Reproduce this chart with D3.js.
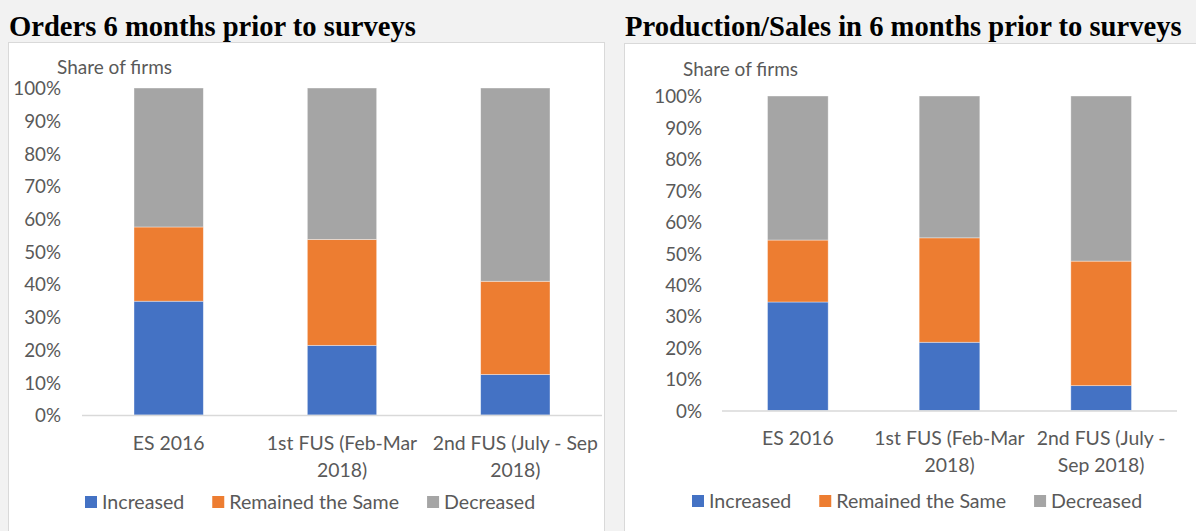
<!DOCTYPE html>
<html>
<head>
<meta charset="utf-8">
<script src="https://cdn.jsdelivr.net/npm/d3@7"></script>
<style>
  body { margin: 0; background: #f2f2f2; }
  svg { display: block; }
  text { font-family: Lato, "Open Sans", sans-serif; fill: #595959; }
  .title { font-family: "Liberation Serif", "DejaVu Serif", serif; font-weight: bold; fill: #000; }
</style>
</head>
<body>
<div id="chart"></div>
<script>
// data
var series = ["Increased", "Remained the Same", "Decreased"];
var colors = ["#4472c4", "#ed7d31", "#a5a5a5"];

var ordersCats = [["ES 2016"], ["1st FUS (Feb-Mar", "2018)"], ["2nd FUS (July - Sep", "2018)"]];
var ordersIncreased = [34.8, 21.3, 12.4];
var ordersSame = [22.7, 32.4, 28.5];
var ordersDecreased = [42.5, 46.3, 59.1];

var salesCats = [["ES 2016"], ["1st FUS (Feb-Mar", "2018)"], ["2nd FUS (July -", "Sep 2018)"]];
var salesIncreased = [34.5, 21.7, 7.9];
var salesSame = [19.7, 33.2, 39.6];
var salesDecreased = [45.8, 45.1, 52.5];

var yTicks = [0, 10, 20, 30, 40, 50, 60, 70, 80, 90, 100];

var width = 1196, height = 531;

var svg = d3.select("#chart")
    .append("svg")
    .attr("width", width)
    .attr("height", height);

function drawPanel(opt) {
    var g = svg.append("g");

    // panel box
    g.append("rect")
        .attr("x", opt.box[0] + 0.5)
        .attr("y", opt.box[1] + 0.5)
        .attr("width", opt.box[2])
        .attr("height", opt.box[3])
        .attr("fill", "#fff")
        .attr("stroke", "#d9d9d9");

    g.append("text")
        .attr("class", "title")
        .attr("x", opt.titleX)
        .attr("y", 36)
        .style("font-size", "28.6px")
        .text(opt.title);

    var x = d3.scaleBand()
        .domain(d3.range(opt.cats.length))
        .range([opt.x0, opt.x1])
        .paddingInner(0.6)
        .paddingOuter(0.3);

    var y = d3.scaleLinear()
        .domain([0, 100])
        .range([opt.y0, opt.y1]);

    var rows = opt.cats.map(function(c, i) {
        return {i: i, "Increased": opt.inc[i], "Remained the Same": opt.same[i], "Decreased": opt.dec[i]};
    });
    var stacked = d3.stack().keys(series)(rows);

    // y axis labels
    var yAxis = d3.axisLeft(y)
        .tickValues(yTicks)
        .tickFormat(function(d) { return d + "%"; })
        .tickSize(0)
        .tickPadding(0);
    var ya = g.append("g")
        .attr("transform", "translate(" + opt.labelX + ",0)")
        .call(yAxis);
    ya.select(".domain").remove();
    ya.selectAll("text")
        .style("font-size", "18.8px")
        .style("font-family", "Lato")
        .attr("fill", "#595959")
        .attr("dy", "0.36em");

    g.append("text")
        .attr("x", opt.unitX)
        .attr("y", opt.unitY)
        .style("font-size", "19px")
        .text("Share of firms");

    // bars
    g.selectAll(".layer")
        .data(stacked)
        .enter()
        .append("g")
        .attr("fill", function(d, i) { return colors[i]; })
        .selectAll("rect")
        .data(function(d) { return d; })
        .enter()
        .append("rect")
        .attr("x", function(d) { return x(d.data.i); })
        .attr("width", x.bandwidth())
        .attr("y", function(d) { return y(d[1]); })
        .attr("height", function(d) { return y(d[0]) - y(d[1]); })
        .attr("stroke", "#fff")
        .attr("stroke-opacity", 0.5)
        .attr("stroke-width", 0.75);

    // baseline
    g.append("line")
        .attr("x1", opt.x0)
        .attr("x2", opt.x1)
        .attr("y1", y(0) + 0.5)
        .attr("y2", y(0) + 0.5)
        .attr("stroke", "#d9d9d9")
        .attr("stroke-width", 1.5);

    // category labels
    var xa = g.append("g");
    opt.cats.forEach(function(lines, i) {
        var t = xa.append("text")
            .attr("text-anchor", "middle")
            .attr("x", x(i) + x.bandwidth() / 2)
            .attr("y", opt.catY)
            .style("font-size", "19.4px");
        lines.forEach(function(l, j) {
            t.append("tspan")
                .attr("x", x(i) + x.bandwidth() / 2)
                .attr("dy", j === 0 ? "0.36em" : "27px")
                .text(l);
        });
    });

    // legend
    var lx = opt.legendX;
    series.forEach(function(s, i) {
        var item = g.append("g").attr("transform", "translate(" + lx + "," + opt.legendY + ")");
        item.append("rect")
            .attr("x", 0)
            .attr("y", -6)
            .attr("width", 12)
            .attr("height", 12)
            .attr("fill", colors[i]);
        var t = item.append("text")
            .attr("x", 17)
            .attr("dy", "0.36em")
            .style("font-size", "19.6px")
            .text(s);
        lx += 17 + t.node().getComputedTextLength() + 28;
    });
}

drawPanel({
    box: [8, 42, 596, 520],
    title: "Orders 6 months prior to surveys",
    titleX: 9,
    cats: ordersCats, inc: ordersIncreased, same: ordersSame, dec: ordersDecreased,
    x0: 82, x1: 602, y0: 415, y1: 88,
    labelX: 61, unitX: 57, unitY: 74,
    catY: 443, legendX: 85, legendY: 502
});

drawPanel({
    box: [624, 43, 620, 520],
    title: "Production/Sales in 6 months prior to surveys",
    titleX: 625,
    cats: salesCats, inc: salesIncreased, same: salesSame, dec: salesDecreased,
    x0: 722, x1: 1177, y0: 410.5, y1: 96,
    labelX: 702, unitX: 683, unitY: 76,
    catY: 438, legendX: 692, legendY: 501
});
</script>
</body>
</html>
